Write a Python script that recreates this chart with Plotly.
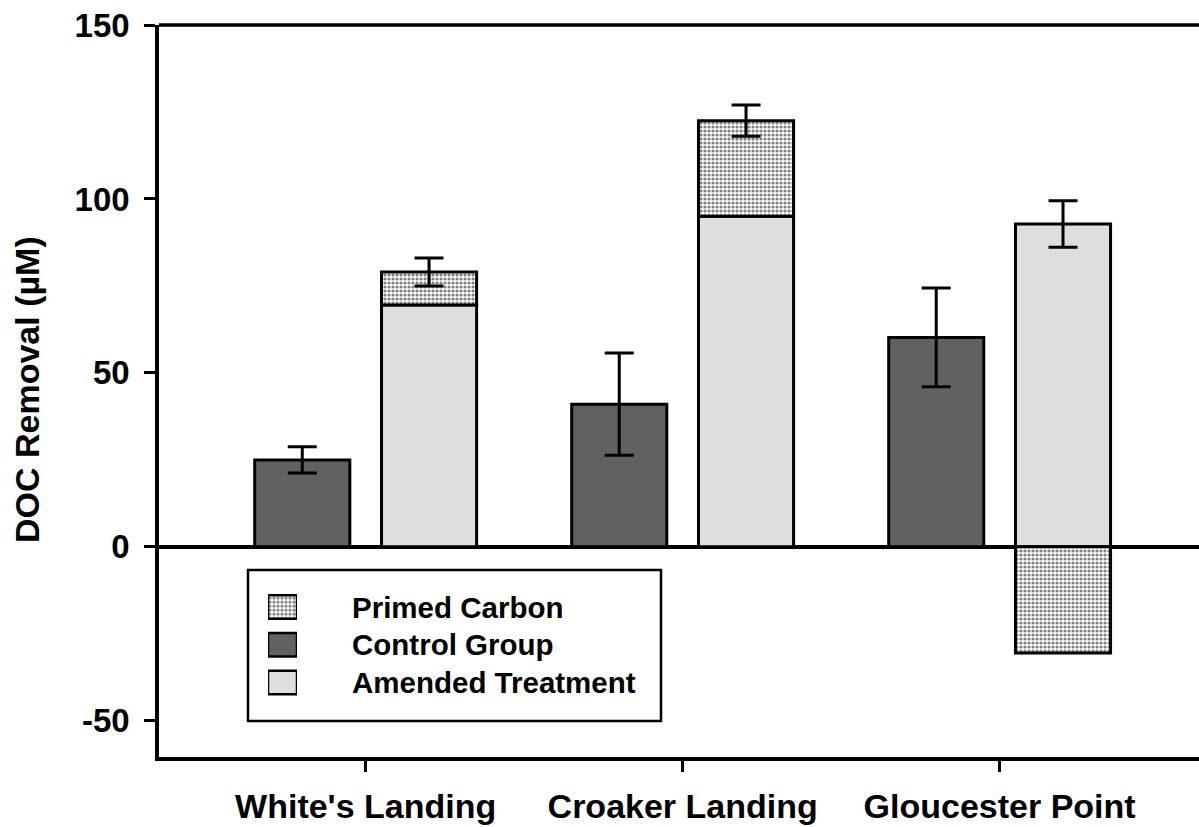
import plotly.graph_objects as go

# Sites and measured DOC removal (µM)
sites = ["White's Landing", "Croaker Landing", "Gloucester Point"]
control = [25.0, 41.0, 60.2]
control_err = [3.8, 14.7, 14.2]
amended = [69.5, 95.0, 92.8]
primed = [9.5, 27.5, -30.5]
amended_err = [4.0, 4.5, 6.7]

y_ticks = [-50, 0, 50, 100, 150]
y_tick_text = ["-50", "0", "50", "100", "150"]
legend_labels = ["Primed Carbon", "Control Group", "Amended Treatment"]

FONT = "Liberation Sans, Arial, sans-serif"
DARK = "#616161"
LIGHT = "#dedede"
DOTS = dict(shape=".", bgcolor="white", fgcolor="black", size=4, solidity=0.5)

xs = list(range(len(sites)))
BAR_W = 0.3

# primed carbon sits on top of the amended bar when positive, hangs from zero when negative
primed_base = [a if p > 0 else 0 for a, p in zip(amended, primed)]
amended_top = [a + max(p, 0) for a, p in zip(amended, primed)]

fig = go.Figure()

fig.add_trace(go.Bar(
    x=xs, y=control, width=BAR_W, offset=-0.35,
    marker=dict(color=DARK, line=dict(color="black", width=3)),
    showlegend=False,
))
fig.add_trace(go.Bar(
    x=xs, y=amended, width=BAR_W, offset=0.05,
    marker=dict(color=LIGHT, line=dict(color="black", width=3)),
    showlegend=False,
))
fig.add_trace(go.Bar(
    x=xs, y=primed, base=primed_base, width=BAR_W, offset=0.05,
    marker=dict(color="white", pattern=DOTS, line=dict(color="black", width=3)),
    showlegend=False,
))

# error bars
err_style = dict(type="data", color="black", thickness=3, width=14.5)
fig.add_trace(go.Scatter(
    x=[i - 0.2 for i in xs], y=control, mode="markers",
    marker=dict(size=0.1, color="rgba(0,0,0,0)"),
    error_y=dict(array=control_err, **err_style), showlegend=False,
))
fig.add_trace(go.Scatter(
    x=[i + 0.2 for i in xs], y=amended_top, mode="markers",
    marker=dict(size=0.1, color="rgba(0,0,0,0)"),
    error_y=dict(array=amended_err, **err_style), showlegend=False,
))

# legend swatches on their own small hidden axes
swatch_styles = [
    dict(color="white", pattern=DOTS, line=dict(color="black", width=2.5)),
    dict(color=DARK, line=dict(color="black", width=2.5)),
    dict(color=LIGHT, line=dict(color="black", width=2.5)),
]
for k, style in enumerate(swatch_styles):
    row = len(swatch_styles) - 1 - k
    fig.add_trace(go.Bar(
        x=[0], y=[0.62], base=[row - 0.31], width=1,
        marker=style, xaxis="x2", yaxis="y2", showlegend=False,
        hoverinfo="skip",
    ))

# plot area in pixels
L, R, T, B = 159, 1199, 25, 757
W_PX, H_PX = R - L, B - T


def px_x(px):
    return (px - L) / W_PX


def px_y(py):
    return (B - py) / H_PX


row_centres = [607, 644.8, 682.5]
annotations = []
for label, cy in zip(legend_labels, row_centres):
    annotations.append(dict(
        text=label, xref="paper", yref="paper", x=px_x(350), y=px_y(cy),
        xanchor="left", yanchor="middle", showarrow=False,
        font=dict(family=FONT, size=29.5, color="black", weight="bold"),
    ))
annotations.append(dict(
    text="DOC Removal (µM)", xref="paper", yref="paper",
    x=px_x(27), y=px_y(390), xanchor="center", yanchor="middle",
    textangle=-90, showarrow=False,
    font=dict(family=FONT, size=34, color="black", weight="bold"),
))

shapes = [
    # legend frame
    dict(type="rect", xref="paper", yref="paper",
         x0=px_x(248), x1=px_x(661), y0=px_y(721), y1=px_y(570),
         line=dict(color="black", width=2.5), layer="above"),
    # top frame line
    dict(type="line", xref="paper", yref="paper", x0=0, x1=1, y0=1, y1=1,
         line=dict(color="black", width=3.5), layer="above"),
]

fig.update_layout(
    width=1199, height=827,
    margin=dict(l=L, r=1199 - R, t=T, b=827 - B),
    paper_bgcolor="white", plot_bgcolor="white",
    barmode="overlay",
    font=dict(family=FONT, color="black"),
    shapes=shapes, annotations=annotations,
    xaxis=dict(
        range=[-0.652, 2.629], tickvals=xs, ticktext=sites,
        showgrid=False, zeroline=False, showline=True,
        linecolor="black", linewidth=3.5,
        ticks="outside", ticklen=11, tickwidth=3, tickcolor="black",
        tickfont=dict(family=FONT, size=34, color="black", weight="bold"),
        ticklabelstandoff=5, automargin=False,
    ),
    yaxis=dict(
        range=[-60.4, 150], tickvals=y_ticks, ticktext=y_tick_text,
        showgrid=False, zeroline=True, zerolinecolor="black", zerolinewidth=3.5,
        showline=True, linecolor="black", linewidth=3.5,
        ticks="outside", ticklen=11, tickwidth=3, tickcolor="black",
        tickfont=dict(family=FONT, size=33, color="black", weight="bold"),
        ticklabelstandoff=8, automargin=False,
    ),
    xaxis2=dict(domain=[px_x(268), px_x(297)], range=[-0.5, 0.5],
                anchor="y2", visible=False, fixedrange=True),
    yaxis2=dict(domain=[px_y(701.35), px_y(588.15)], range=[-0.5, 2.5],
                anchor="x2", visible=False, fixedrange=True),
)

fig.write_html("out.html")
